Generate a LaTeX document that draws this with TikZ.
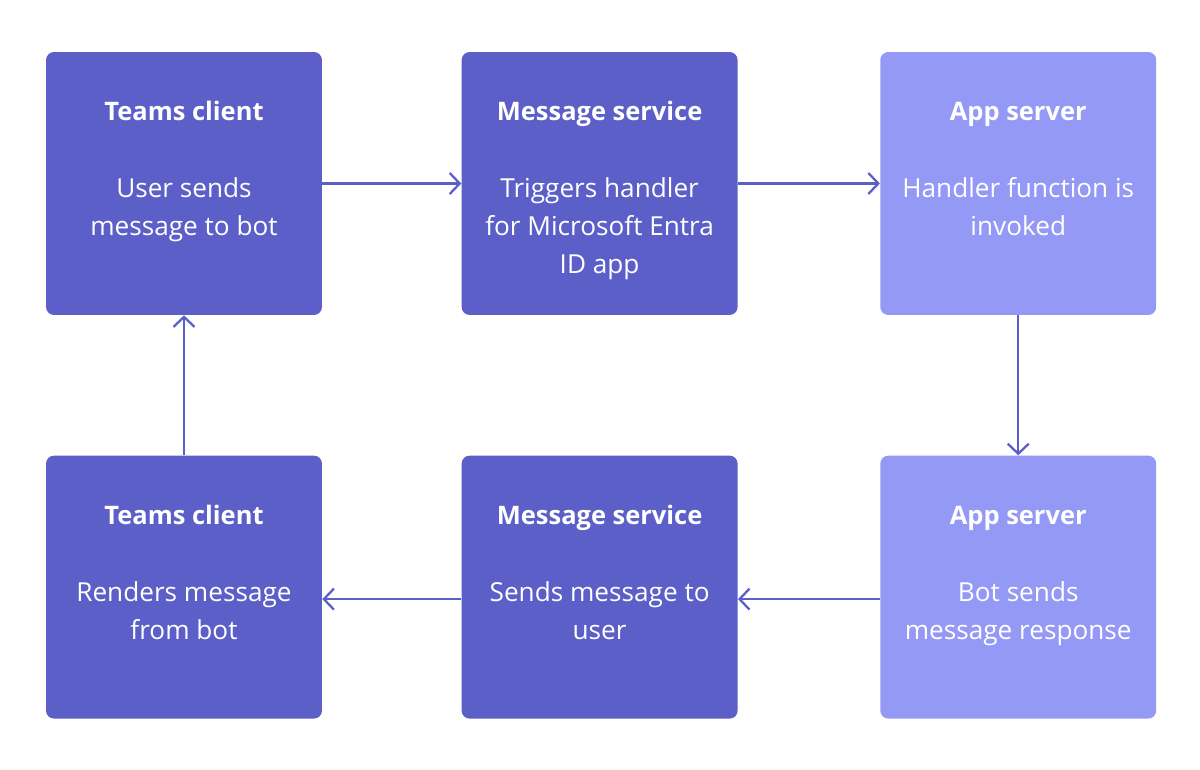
\documentclass[tikz,border=0pt]{standalone}
\usepackage{fontspec}
\setmainfont{Open Sans}
\usetikzlibrary{positioning,arrows.meta}
\definecolor{teamsdark}{HTML}{5B5FC7}
\definecolor{teamslight}{HTML}{9399F5}
\begin{document}
\begin{tikzpicture}[
x=0.02cm,y=-0.02cm,
box/.style={
  draw=none,
  rounded corners=0.16cm,
  minimum width=5.52cm,
  minimum height=5.26cm,
  inner sep=0pt
  },
darkbox/.style={
  box,
  fill=teamsdark
  },
lightbox/.style={
  box,
  fill=teamslight
  },
title/.style={
  text=white,
  anchor=base,
  font=\fontsize{14.5}{21.5}\selectfont\bfseries
  },
body/.style={
  text=white,
  anchor=north,
  align=center,
  font=\fontsize{14.9}{21.6}\selectfont
  },
link/.style={
  draw=teamsdark,
  line width=1.3pt
  },
>={Straight Barb[length=0.2cm,width=0.42cm]}
]
\useasboundingbox (0,0) rectangle (1200,770);
% top row
\node[darkbox] (tc1) at (184,183.5) {};
\node[darkbox, right=2.78cm of tc1] (ms1) {};
\node[lightbox, right=2.84cm of ms1] (as1) {};
% bottom row
\node[lightbox, below=2.8cm of as1] (as2) {};
\node[darkbox, below=2.8cm of ms1] (ms2) {};
\node[darkbox, below=2.8cm of tc1] (tc2) {};
% titles and texts
\foreach \bx/\ti/\tx in {
  tc1/Teams client/User sends\\message to bot,
  ms1/Message service/Triggers handler\\for Microsoft Entra\\ID app,
  as1/App server/Handler function is\\invoked,
  as2/App server/Bot sends\\message response,
  ms2/Message service/Sends message to\\user,
  tc2/Teams client/Renders message\\from bot}
{
  \node[title] (\bx-title) at ([yshift=-1.38cm]\bx.north) {\ti};
  \node[body] (\bx-text) at ([yshift=-2.4cm]\bx.north) {\tx};
}
% connectors
\draw[link,->] (tc1.east) -- (ms1.west);
\draw[link,->] (ms1.east) -- (as1.west);
\draw[link,->] (as1.south) -- (as2.north);
\draw[link,->] ([yshift=-0.24cm]as2.west) -- ([yshift=-0.24cm]ms2.east);
\draw[link,->] ([yshift=-0.24cm]ms2.west) -- ([yshift=-0.24cm]tc2.east);
\draw[link,->] (tc2.north) -- (tc1.south);
\end{tikzpicture}
\end{document}
